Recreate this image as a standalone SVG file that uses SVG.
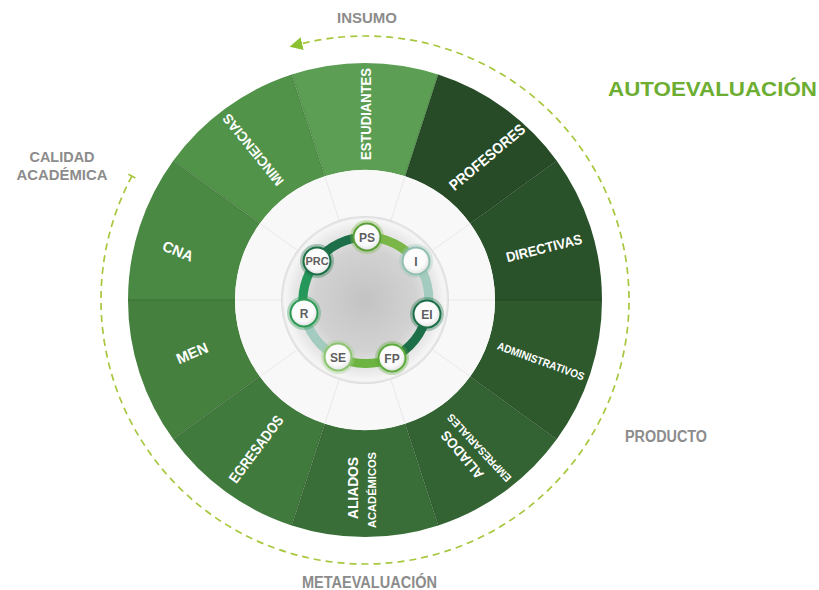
<svg xmlns="http://www.w3.org/2000/svg" width="819" height="590" viewBox="0 0 819 590">
<defs>
<style>
.seg-label{font-family:"Liberation Sans",Arial,sans-serif;font-weight:bold;fill:#ffffff;text-anchor:middle}
.outer-label{font-family:"Liberation Sans",Arial,sans-serif;font-weight:bold;fill:#8c8c8c;text-anchor:middle}
.node-label{font-family:"Liberation Sans",Arial,sans-serif;font-weight:bold;fill:#5e5e5e;text-anchor:middle}
.flow{fill:none;stroke:#a6c73e;stroke-width:1.7;stroke-dasharray:7 5}
.cyc{fill:none;stroke-width:9}
.node-bg{fill:url(#nodefill)}
.halo{opacity:0.35}
.divider{stroke:#e9e9e9;stroke-width:1}
.seam{stroke:#000000;stroke-opacity:0.08;stroke-width:2}
</style>
<radialGradient id="sphere" cx="50%" cy="50%" r="50%">
<stop offset="0" stop-color="#c3c3c3"/>
<stop offset="0.6" stop-color="#d2d2d2"/>
<stop offset="0.85" stop-color="#e9e9e9"/>
<stop offset="0.96" stop-color="#f6f6f6"/>
<stop offset="1" stop-color="#d9d9d9"/>
</radialGradient>
<radialGradient id="nodefill" cx="45%" cy="40%" r="60%">
<stop offset="0" stop-color="#ffffff"/>
<stop offset="0.7" stop-color="#fbfbfb"/>
<stop offset="1" stop-color="#e6e6e6"/>
</radialGradient>
<marker id="arrow" viewBox="0 0 12 12" refX="1" refY="6" markerWidth="13" markerHeight="13" markerUnits="userSpaceOnUse" orient="auto">
<path d="M0,0 L12,6 L0,12 Z" fill="#8cc232"/>
</marker>
<marker id="tbar" viewBox="-5 -5 10 10" refX="0" refY="0" markerWidth="10" markerHeight="10" markerUnits="userSpaceOnUse" orient="auto">
<line x1="0" y1="-4" x2="0" y2="4" stroke="#a6c73e" stroke-width="1.6"/>
</marker>
</defs>
<rect width="819" height="590" fill="#ffffff"/>

<g id="segments">
<g id="seg-estudiantes">
<path d="M291.76,74.60 A237,237 0 0 1 438.24,74.60 L405.17,176.36 A130,130 0 0 0 324.83,176.36 Z" fill="#5c9e53"/>
<text class="seg-label" font-size="15" textLength="92" lengthAdjust="spacingAndGlyphs" transform="translate(366,114) rotate(-90)" dy="0.36em">ESTUDIANTES</text>
</g>
<g id="seg-profesores">
<path d="M438.24,74.60 A237,237 0 0 1 556.74,160.69 L470.17,223.59 A130,130 0 0 0 405.17,176.36 Z" fill="#264b26"/>
<text class="seg-label" font-size="15" textLength="94" lengthAdjust="spacingAndGlyphs" transform="translate(487,157) rotate(-40)" dy="0.36em">PROFESORES</text>
</g>
<g id="seg-directivas">
<path d="M556.74,160.69 A237,237 0 0 1 602,300 L495,300 A130,130 0 0 0 470.17,223.59 Z" fill="#29512a"/>
<text class="seg-label" font-size="14" textLength="78" lengthAdjust="spacingAndGlyphs" transform="translate(544,248) rotate(-14)" dy="0.36em">DIRECTIVAS</text>
</g>
<g id="seg-administrativos">
<path d="M602,300 A237,237 0 0 1 556.74,439.31 L470.17,376.41 A130,130 0 0 0 495,300 Z" fill="#2d592d"/>
<text class="seg-label" font-size="11" textLength="92" lengthAdjust="spacingAndGlyphs" transform="translate(541,361) rotate(20)" dy="0.36em">ADMINISTRATIVOS</text>
</g>
<g id="seg-aliados-empresariales">
<path d="M556.74,439.31 A237,237 0 0 1 438.24,525.40 L405.17,423.64 A130,130 0 0 0 470.17,376.41 Z" fill="#336333"/>
<text class="seg-label" font-size="14" textLength="58" lengthAdjust="spacingAndGlyphs" transform="translate(462,455) rotate(-130)" dy="0.36em">ALIADOS</text>
<text class="seg-label" font-size="11" textLength="88" lengthAdjust="spacingAndGlyphs" transform="translate(479,448) rotate(-133)" dy="0.36em">EMPRESARIALES</text>
</g>
<g id="seg-aliados-academicos">
<path d="M438.24,525.40 A237,237 0 0 1 291.76,525.40 L324.83,423.64 A130,130 0 0 0 405.17,423.64 Z" fill="#3a6e38"/>
<text class="seg-label" font-size="15" textLength="62" lengthAdjust="spacingAndGlyphs" transform="translate(353,488) rotate(-90)" dy="0.36em">ALIADOS</text>
<text class="seg-label" font-size="11" textLength="76" lengthAdjust="spacingAndGlyphs" transform="translate(372,490) rotate(-90)" dy="0.36em">ACADÉMICOS</text>
</g>
<g id="seg-egresados">
<path d="M291.76,525.40 A237,237 0 0 1 173.26,439.31 L259.83,376.41 A130,130 0 0 0 324.83,423.64 Z" fill="#417a3d"/>
<text class="seg-label" font-size="15" textLength="80" lengthAdjust="spacingAndGlyphs" transform="translate(256,449) rotate(-53)" dy="0.36em">EGRESADOS</text>
</g>
<g id="seg-men">
<path d="M173.26,439.31 A237,237 0 0 1 128,300 L235,300 A130,130 0 0 0 259.83,376.41 Z" fill="#45803f"/>
<text class="seg-label" font-size="15" textLength="33" lengthAdjust="spacingAndGlyphs" transform="translate(192,353) rotate(-23)" dy="0.36em">MEN</text>
</g>
<g id="seg-cna">
<path d="M128,300 A237,237 0 0 1 173.26,160.69 L259.83,223.59 A130,130 0 0 0 235,300 Z" fill="#4a8944"/>
<text class="seg-label" font-size="15" textLength="32" lengthAdjust="spacingAndGlyphs" transform="translate(178,251) rotate(22)" dy="0.36em">CNA</text>
</g>
<g id="seg-minciencias">
<path d="M173.26,160.69 A237,237 0 0 1 291.76,74.60 L324.83,176.36 A130,130 0 0 0 259.83,223.59 Z" fill="#519349"/>
<text class="seg-label" font-size="14" textLength="88" lengthAdjust="spacingAndGlyphs" transform="translate(253,150) rotate(-129)" dy="0.36em">MINCIENCIAS</text>
</g>
<g id="seams">
<line class="seam" x1="438.24" y1="74.60" x2="405.17" y2="176.36"/>
<line class="seam" x1="556.74" y1="160.69" x2="470.17" y2="223.59"/>
<line class="seam" x1="602" y1="300" x2="495" y2="300"/>
<line class="seam" x1="556.74" y1="439.31" x2="470.17" y2="376.41"/>
<line class="seam" x1="438.24" y1="525.40" x2="405.17" y2="423.64"/>
<line class="seam" x1="291.76" y1="525.40" x2="324.83" y2="423.64"/>
<line class="seam" x1="173.26" y1="439.31" x2="259.83" y2="376.41"/>
<line class="seam" x1="128" y1="300" x2="235" y2="300"/>
<line class="seam" x1="173.26" y1="160.69" x2="259.83" y2="223.59"/>
<line class="seam" x1="291.76" y1="74.60" x2="324.83" y2="176.36"/>
</g>
</g>

<g id="inner-disc">
<circle cx="365" cy="300" r="130" fill="#f8f8f8"/>
<line class="divider" x1="405.17" y1="176.36" x2="391" y2="220"/>
<line class="divider" x1="470.17" y1="223.59" x2="433" y2="250"/>
<line class="divider" x1="495" y1="300" x2="449" y2="300"/>
<line class="divider" x1="470.17" y1="376.41" x2="433" y2="350"/>
<line class="divider" x1="405.17" y1="423.64" x2="391" y2="380"/>
<line class="divider" x1="324.83" y1="423.64" x2="339" y2="380"/>
<line class="divider" x1="259.83" y1="376.41" x2="297" y2="350"/>
<line class="divider" x1="235" y1="300" x2="281" y2="300"/>
<line class="divider" x1="259.83" y1="223.59" x2="297" y2="250"/>
<line class="divider" x1="324.83" y1="176.36" x2="339" y2="220"/>
<circle cx="365" cy="300" r="84" fill="url(#sphere)"/>
</g>

<g id="connectors">
<path class="flow" d="M131.90,176.06 A264,264 0 1 0 301.13,43.84" marker-start="url(#tbar)" marker-end="url(#arrow)"/>
<path class="cyc" d="M367,237 A63,63 0 0 1 416,261" stroke="#7ab648"/>
<path class="cyc" d="M416,261 A63,63 0 0 1 427,314" stroke="#a4cbbf"/>
<path class="cyc" d="M427,314 A63,63 0 0 1 392,358" stroke="#1c6f48"/>
<path class="cyc" d="M392,358 A63,63 0 0 1 338,357" stroke="#6db33f"/>
<path class="cyc" d="M338,357 A63,63 0 0 1 304,313" stroke="#a4cbbf"/>
<path class="cyc" d="M304,313 A63,63 0 0 1 317,261" stroke="#26975a"/>
<path class="cyc" d="M317,261 A63,63 0 0 1 367,237" stroke="#1c6f48"/>
</g>

<g id="cycle-nodes">
<g id="node-ps"><circle class="halo" cx="367" cy="237" r="17" fill="#7ab648"/><circle cx="367" cy="237" r="14.5" fill="#5a9f38"/><circle class="node-bg" cx="367" cy="237" r="12.5"/><text class="node-label" x="367" y="241.5" font-size="12">PS</text></g>
<g id="node-i"><circle class="halo" cx="416" cy="261" r="17" fill="#9cc6b8"/><circle cx="416" cy="261" r="14.5" fill="#8fbfb0"/><circle class="node-bg" cx="416" cy="261" r="12.5"/><text class="node-label" x="416" y="265.5" font-size="12">I</text></g>
<g id="node-ei"><circle class="halo" cx="427" cy="314" r="17" fill="#1c6f48"/><circle cx="427" cy="314" r="14.5" fill="#1c6f48"/><circle class="node-bg" cx="427" cy="314" r="12.5"/><text class="node-label" x="427" y="318.5" font-size="12">EI</text></g>
<g id="node-fp"><circle class="halo" cx="392" cy="358" r="17" fill="#5faa3c"/><circle cx="392" cy="358" r="14.5" fill="#5faa3c"/><circle class="node-bg" cx="392" cy="358" r="12.5"/><text class="node-label" x="392" y="362.5" font-size="12">FP</text></g>
<g id="node-se"><circle class="halo" cx="338" cy="357" r="17" fill="#9fce86"/><circle cx="338" cy="357" r="14.5" fill="#8cc46f"/><circle class="node-bg" cx="338" cy="357" r="12.5"/><text class="node-label" x="338" y="361.5" font-size="12">SE</text></g>
<g id="node-r"><circle class="halo" cx="304" cy="313" r="17" fill="#2d9a55"/><circle cx="304" cy="313" r="14.5" fill="#2d9a55"/><circle class="node-bg" cx="304" cy="313" r="12.5"/><text class="node-label" x="304" y="317.5" font-size="12">R</text></g>
<g id="node-prc"><circle class="halo" cx="317" cy="261" r="17" fill="#1d6f47"/><circle cx="317" cy="261" r="14.5" fill="#1d6f47"/><circle class="node-bg" cx="317" cy="261" r="12.5"/><text class="node-label" x="317" y="265" font-size="11">PRC</text></g>
</g>

<g id="labels">
<text class="outer-label" x="367" y="23" font-size="15" textLength="60" lengthAdjust="spacingAndGlyphs">INSUMO</text>
<text class="outer-label" x="62" y="162" font-size="15" textLength="65" lengthAdjust="spacingAndGlyphs">CALIDAD</text>
<text class="outer-label" x="62" y="180" font-size="15" textLength="91" lengthAdjust="spacingAndGlyphs">ACADÉMICA</text>
<text class="outer-label" x="666" y="442" font-size="16" textLength="82" lengthAdjust="spacingAndGlyphs">PRODUCTO</text>
<text class="outer-label" x="369.5" y="588" font-size="16" textLength="135" lengthAdjust="spacingAndGlyphs">METAEVALUACIÓN</text>
<text x="712.5" y="96" font-family="'Liberation Sans',Arial,sans-serif" font-weight="bold" font-size="21" fill="#6cad32" text-anchor="middle" textLength="209" lengthAdjust="spacingAndGlyphs">AUTOEVALUACIÓN</text>
</g>
</svg>
